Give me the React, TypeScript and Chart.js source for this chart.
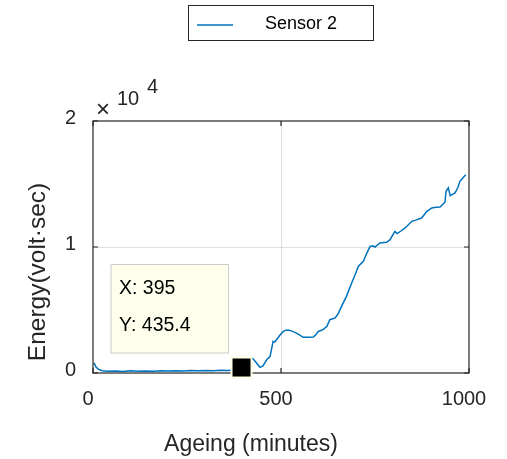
import React, { useEffect, useRef } from "react";
import { Chart, registerables } from "chart.js";

Chart.register(...registerables);

// ---- data ----
const minutes = [
  3, 8, 15, 25, 40, 60, 80, 100, 120, 140, 160, 180, 200, 220, 240, 260, 280, 300, 320, 340, 360, 380,
  395, 410, 425, 435, 444, 452, 462, 471, 479, 483, 488, 497, 506, 515, 524, 537, 548, 559, 572, 586,
  593, 599, 612, 622, 630, 644, 652, 661, 674, 688, 697, 706, 719, 728, 737, 744, 750, 763, 781, 790,
  803, 809, 818, 830, 848, 860, 874, 888, 901, 912, 923, 936, 939, 945, 950, 957, 963, 970, 976, 983,
  989, 992,
];
const energy = [
  800, 480, 290, 180, 130, 150, 120, 170, 140, 160, 130, 170, 150, 180, 160, 190, 170, 200, 180, 210,
  190, 230, 435.4, 800, 1150, 800, 450, 560, 1050, 1320, 2510, 2450, 2640, 3000, 3300, 3420, 3380, 3220,
  3050, 2830, 2830, 2860, 3050, 3300, 3440, 3700, 4230, 4370, 4700, 5290, 6080, 7150, 7800, 8470, 8860,
  9500, 10050, 10100, 10000, 10320, 10370, 10580, 11240, 11060, 11250, 11510, 12040, 12150, 12300,
  12830, 13100, 13150, 13180, 13550, 14420, 14690, 14080, 14200, 14290, 14700, 15210, 15450, 15670,
  15700,
];
const xTicks = [0, 500, 1000];
const yTicks = [0, 10000, 20000];
const yTickLabels = ["0", "1", "2"];
const seriesName = "Sensor 2";
const tipX = 395;
const tipY = 435.4;
const xTitle = "Ageing (minutes)";
const yTitle = "Energy(volt\u00b7sec)";
const exponent = "4";

const FONT = "'Liberation Sans', Arial, Helvetica, sans-serif";
const AX = "#262626";
const BLUE = "#0072BD";
const GRID = "rgba(38,38,38,0.15)";

const overlay = {
  id: "matlabOverlay",
  afterDraw(chart: any) {
    const ctx = chart.ctx as CanvasRenderingContext2D;
    const { left, right, top, bottom } = chart.chartArea;
    const xs = chart.scales.x;
    const ys = chart.scales.y;
    ctx.save();

    // box
    ctx.strokeStyle = AX;
    ctx.lineWidth = 1.2;
    ctx.strokeRect(left, top, right - left, bottom - top);

    // inward ticks
    ctx.beginPath();
    xTicks.forEach((v) => {
      const px = xs.getPixelForValue(v);
      ctx.moveTo(px, bottom);
      ctx.lineTo(px, bottom - 5);
      ctx.moveTo(px, top);
      ctx.lineTo(px, top + 5);
    });
    yTicks.forEach((v) => {
      const py = ys.getPixelForValue(v);
      ctx.moveTo(left, py);
      ctx.lineTo(left + 5, py);
      ctx.moveTo(right, py);
      ctx.lineTo(right - 5, py);
    });
    ctx.stroke();

    // exponent label
    ctx.fillStyle = AX;
    ctx.font = `24px ${FONT}`;
    ctx.textAlign = "center";
    ctx.textBaseline = "alphabetic";
    ctx.fillText("\u00d7", left + 10, top - 4);
    ctx.font = `20px ${FONT}`;
    ctx.textAlign = "left";
    ctx.fillText("10", left + 24, top - 16);
    ctx.fillText(exponent, left + 54, top - 28);

    // axis titles
    ctx.font = `23px ${FONT}`;
    ctx.textAlign = "center";
    ctx.textBaseline = "alphabetic";
    ctx.fillText(xTitle, 251, 451);
    ctx.save();
    ctx.font = `24.5px ${FONT}`;
    ctx.translate(45, 272);
    ctx.rotate(-Math.PI / 2);
    ctx.fillText(yTitle, 0, 0);
    ctx.restore();

    // legend
    const lx = 188.5, ly = 5.5, lw = 185, lh = 35;
    ctx.fillStyle = "#ffffff";
    ctx.fillRect(lx, ly, lw, lh);
    ctx.strokeStyle = AX;
    ctx.lineWidth = 1;
    ctx.strokeRect(lx, ly, lw, lh);
    ctx.strokeStyle = BLUE;
    ctx.lineWidth = 1.5;
    ctx.beginPath();
    ctx.moveTo(197, 25);
    ctx.lineTo(233, 25);
    ctx.stroke();
    ctx.fillStyle = "#000000";
    ctx.font = `18px ${FONT}`;
    ctx.textAlign = "left";
    ctx.textBaseline = "alphabetic";
    ctx.fillText(seriesName, 265, 29);

    // data tip
    const mx = xs.getPixelForValue(tipX);
    const my = ys.getPixelForValue(tipY);
    ctx.fillStyle = "#FFFFEE";
    ctx.fillRect(mx - 131, my - 103.5, 118.5, 89.5);
    ctx.strokeStyle = "#CCCCCC";
    ctx.lineWidth = 1;
    ctx.strokeRect(mx - 130.5, my - 103, 117.5, 88.5);
    ctx.fillStyle = "#000000";
    ctx.font = `19.5px ${FONT}`;
    ctx.textAlign = "left";
    ctx.fillText(`X: ${tipX}`, mx - 122.5, my - 74);
    ctx.fillText(`Y: ${tipY}`, mx - 122.5, my - 37);
    // marker
    ctx.fillStyle = "#FFFFE6";
    ctx.fillRect(mx - 11, my - 11, 22, 22);
    ctx.fillStyle = "#000000";
    ctx.fillRect(mx - 9, my - 9, 18, 18);

    ctx.restore();
  },
};

export default function App() {
  const ref = useRef<HTMLCanvasElement | null>(null);
  useEffect(() => {
    if (!ref.current) return;
    const chart = new Chart(ref.current, {
      type: "line",
      data: {
        datasets: [
          {
            label: seriesName,
            data: minutes.map((x, i) => ({ x, y: energy[i] })),
            borderColor: BLUE,
            borderWidth: 1.5,
            pointRadius: 0,
            tension: 0,
            fill: false,
          },
        ],
      },
      options: {
        animation: false,
        responsive: false,
        devicePixelRatio: 1,
        layout: { padding: { top: 121, right: 38, left: 0, bottom: 0 } },
        plugins: { legend: { display: false }, tooltip: { enabled: false }, title: { display: false } },
        scales: {
          x: {
            type: "linear",
            min: 0,
            max: 1000,
            afterFit: (s: any) => {
              s.height = 86;
            },
            afterBuildTicks: (s: any) => {
              s.ticks = xTicks.map((v) => ({ value: v }));
            },
            border: { display: false },
            grid: {
              drawTicks: false,
              color: (c: any) => (c.tick && c.tick.value === 500 ? GRID : "rgba(0,0,0,0)"),
              lineWidth: 1,
            },
            ticks: {
              padding: 14,
              labelOffset: -5,
              maxRotation: 0,
              color: AX,
              font: { family: FONT, size: 20 },
              callback: (v: any) => String(v),
            },
          },
          y: {
            type: "linear",
            min: 0,
            max: 20000,
            afterFit: (s: any) => {
              s.width = 93;
            },
            afterBuildTicks: (s: any) => {
              s.ticks = yTicks.map((v) => ({ value: v }));
            },
            border: { display: false },
            grid: {
              drawTicks: false,
              color: (c: any) => (c.tick && c.tick.value === 10000 ? GRID : "rgba(0,0,0,0)"),
              lineWidth: 1,
            },
            ticks: {
              padding: 17,
              labelOffset: -3,
              color: AX,
              font: { family: FONT, size: 20 },
              callback: (v: any) => yTickLabels[yTicks.indexOf(Number(v))] ?? "",
            },
          },
        },
      },
      plugins: [overlay],
    });
    return () => chart.destroy();
  }, []);

  return (
    <div style={{ position: "fixed", left: 0, top: 0, width: 507, height: 459, background: "#fff" }}>
      <canvas ref={ref} width={507} height={459} style={{ width: 507, height: 459, display: "block" }} />
    </div>
  );
}
